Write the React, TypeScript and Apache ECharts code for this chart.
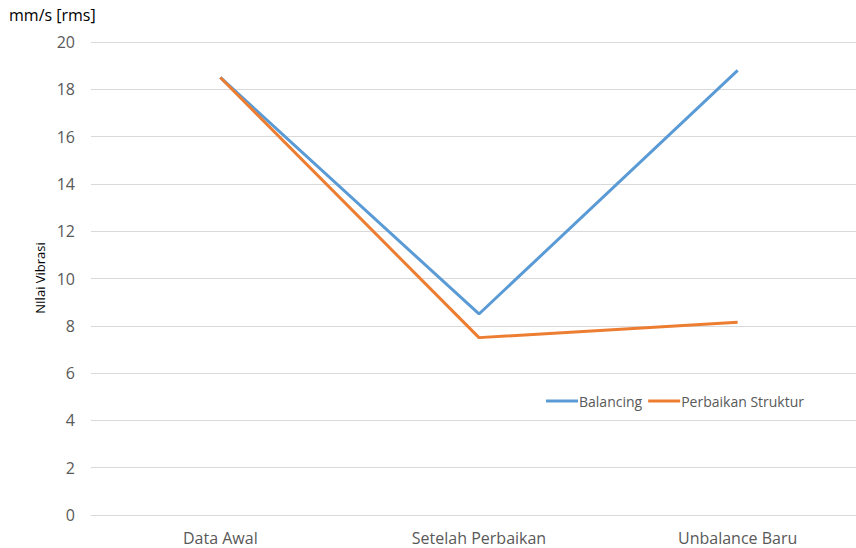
import React, { useEffect, useRef } from "react";
import * as echarts from "echarts";

const categories = ["Data Awal", "Setelah Perbaikan", "Unbalance Baru"];
const balancing = [18.5, 8.5, 18.8];
const perbaikanStruktur = [18.5, 7.5, 8.15];
const yTicks = { min: 0, max: 20, interval: 2 };

const FONT = "'Open Sans', sans-serif";

export default function App() {
  const ref = useRef<HTMLDivElement>(null);
  useEffect(() => {
    if (!ref.current) return;
    const chart = echarts.init(ref.current, undefined, { renderer: "svg" });
    chart.setOption({
      animation: false,
      backgroundColor: "#ffffff",
      grid: {
        left: 91,
        width: 776,
        top: 42,
        height: 473,
        containLabel: false,
        outerBoundsMode: "none",
      },
      legend: {
        data: ["Balancing", "Perbaikan Struktur"],
        left: 541,
        top: 389,
        icon: "rect",
        itemWidth: 32,
        itemHeight: 3,
        itemGap: 6,
        textStyle: { fontFamily: FONT, fontSize: 14, color: "#595959", padding: [0, 0, 0, -4] },
      },
      xAxis: {
        type: "category",
        data: categories,
        boundaryGap: true,
        axisLine: { show: true, lineStyle: { color: "#d9d9d9", width: 1 } },
        axisTick: { show: false },
        axisLabel: { fontFamily: FONT, fontSize: 16, color: "#595959", margin: 15 },
      },
      yAxis: {
        type: "value",
        min: yTicks.min,
        max: yTicks.max,
        interval: yTicks.interval,
        axisLine: { show: false },
        axisTick: { show: false },
        axisLabel: { fontFamily: FONT, fontSize: 16, color: "#595959", margin: 16 },
        splitLine: { lineStyle: { color: "#d9d9d9", width: 1 } },
      },
      graphic: [
        {
          type: "text",
          left: 9,
          top: 7,
          style: { text: "mm/s [rms]", font: `16px ${FONT}`, fill: "#000000" },
        },
        {
          type: "text",
          x: 40,
          y: 278,
          rotation: Math.PI / 2,
          style: {
            text: "NIlai Vibrasi",
            font: `13px ${FONT}`,
            fill: "#000000",
            align: "center",
            verticalAlign: "middle",
          },
        },
      ],
      series: [
        {
          name: "Balancing",
          type: "line",
          data: balancing,
          symbol: "none",
          lineStyle: { color: "#5B9BD5", width: 3 },
          itemStyle: { color: "#5B9BD5" },
        },
        {
          name: "Perbaikan Struktur",
          type: "line",
          data: perbaikanStruktur,
          symbol: "none",
          lineStyle: { color: "#ED7D31", width: 3 },
          itemStyle: { color: "#ED7D31" },
        },
      ],
    });
    return () => chart.dispose();
  }, []);
  return <div ref={ref} style={{ width: 856, height: 548, position: "fixed", left: 0, top: 0 }} />;
}
